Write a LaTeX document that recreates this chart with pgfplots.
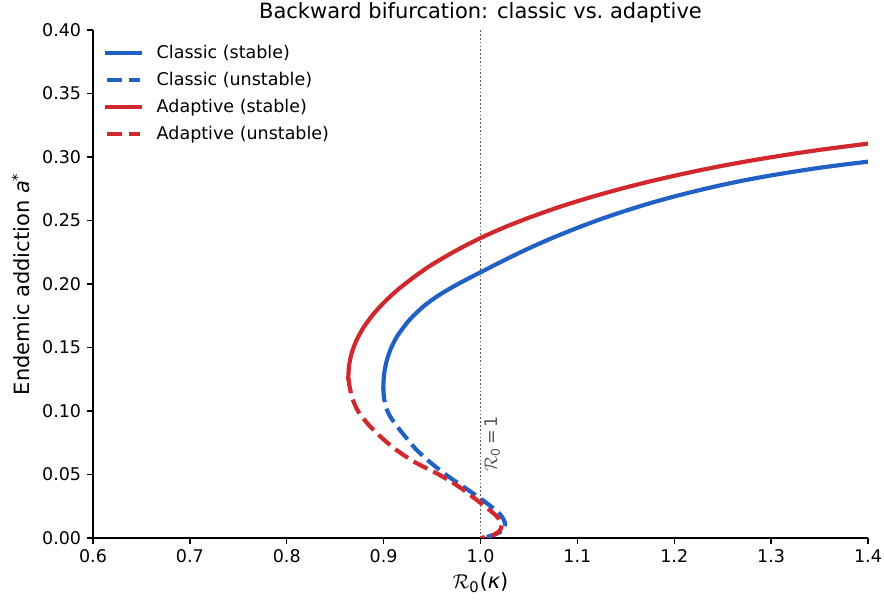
\documentclass[border=0pt]{standalone}
\usepackage{fontspec}
\setmainfont{DejaVu Sans}
\usepackage{pgfplots}
\pgfplotsset{compat=1.18}
\definecolor{cblue}{RGB}{33,96,196}
\definecolor{cred}{RGB}{208,40,44}

\pgfplotstableread{
x y
0.8997 0.1190
0.9005 0.1290
0.9030 0.1390
0.9074 0.1490
0.9141 0.1590
0.9237 0.1690
0.9300 0.1744
0.9400 0.1816
0.9500 0.1875
0.9600 0.1926
0.9700 0.1971
0.9800 0.2013
0.9900 0.2053
1.0000 0.2092
1.0250 0.2189
1.0500 0.2281
1.0750 0.2365
1.1000 0.2442
1.1250 0.2513
1.1500 0.2577
1.1750 0.2636
1.2000 0.2689
1.2250 0.2737
1.2500 0.2781
1.2750 0.2820
1.3000 0.2855
1.3250 0.2886
1.3500 0.2915
1.3750 0.2940
1.4000 0.2963
}\classicstable

\pgfplotstableread{
x y
0.8997 0.1190
0.9002 0.1120
0.9020 0.1040
0.9058 0.0970
0.9118 0.0900
0.9222 0.0800
0.9332 0.0700
0.9475 0.0600
0.9640 0.0500
0.9830 0.0400
1.0020 0.0300
1.0185 0.0200
1.0235 0.0150
1.0253 0.0115
1.0245 0.0080
1.0210 0.0050
1.0140 0.0025
1.0070 0.0010
1.0000 0.0000
}\classicunstable

\pgfplotstableread{
x y
0.8635 0.1260
0.8644 0.1360
0.8672 0.1460
0.8722 0.1560
0.8795 0.1660
0.8891 0.1760
0.9011 0.1860
0.9154 0.1960
0.9323 0.2060
0.9500 0.2153
0.9750 0.2264
1.0000 0.2362
1.0250 0.2447
1.0500 0.2522
1.0750 0.2590
1.1000 0.2652
1.1250 0.2708
1.1500 0.2760
1.1750 0.2808
1.2000 0.2852
1.2250 0.2893
1.2500 0.2931
1.2750 0.2966
1.3000 0.2998
1.3250 0.3028
1.3500 0.3056
1.3750 0.3081
1.4000 0.3105
}\adaptivestable

\pgfplotstableread{
x y
0.8635 0.1260
0.8652 0.1180
0.8677 0.1100
0.8735 0.1000
0.8835 0.0900
0.8965 0.0800
0.9120 0.0700
0.9315 0.0600
0.9570 0.0500
0.9785 0.0400
0.9960 0.0300
1.0125 0.0200
1.0190 0.0150
1.0218 0.0100
1.0200 0.0060
1.0150 0.0030
1.0080 0.0012
1.0000 0.0000
}\adaptiveunstable

\begin{document}
\begin{tikzpicture}
\begin{axis}[
  width=465pt, height=304.8pt, scale only axis,
  xmin=0.6, xmax=1.4, ymin=0, ymax=0.4,
  axis x line*=bottom, axis y line*=left,
  axis line style={line width=0.8pt},
  tick align=outside, major tick length=3.6pt,
  tick style={line width=0.8pt, black},
  xtick={0.6,0.7,0.8,0.9,1.0,1.1,1.2,1.3,1.4},
  ytick={0,0.05,0.10,0.15,0.20,0.25,0.30,0.35,0.40},
  /pgf/number format/assume math mode=true,
  xticklabel={\pgfmathprintnumber[fixed,fixed zerofill,precision=1]{\tick}},
  yticklabel={\pgfmathprintnumber[fixed,fixed zerofill,precision=2]{\tick}},
  tick label style={font=\fontsize{10.5}{12}\selectfont},
  title={Backward bifurcation: classic vs.\ adaptive},
  every axis title/.style={at={(rel axis cs:0.5,1)}, anchor=base, yshift=6.6pt, font=\fontsize{12.6}{14}\selectfont},
  xlabel={$\mathcal{R}$\textsubscript{0}(\textit{κ})},
  ylabel={Endemic addiction \textit{a}\textsuperscript{*}},
  every axis x label/.style={at={(rel axis cs:0.5,0)}, yshift=-26.5pt, anchor=center, font=\fontsize{12.6}{14}\selectfont},
  every axis y label/.style={at={(rel axis cs:0,0.5)}, xshift=-43.2pt, rotate=90, anchor=center, font=\fontsize{12.6}{14}\selectfont},
  legend cell align=left,
  legend image code/.code={\draw[#1] (1.25pt,0pt) -- (21.25pt,0pt); \path (28pt,0pt);},
  legend style={at={(rel axis cs:0,1)}, anchor=north west, xshift=3.8pt, yshift=-5pt,
    draw=none, fill=none, font=\fontsize{10.5}{12}\selectfont, row sep=2.6pt},
]
\coordinate (O) at (rel axis cs:0,0);
\addplot[forget plot, black!65, line width=1.1pt, dash pattern=on 1pt off 1.3pt] coordinates {(1,0) (1,0.4)};
\addplot[cblue, line width=2.5pt, line cap=rect, smooth] table {\classicstable};
\addlegendentry{Classic (stable)}
\addplot[cblue, line width=2.5pt, smooth, dash pattern=on 9.25pt off 4pt] table {\classicunstable};
\addlegendentry{Classic (unstable)}
\addplot[cred, line width=2.5pt, line cap=rect, smooth] table {\adaptivestable};
\addlegendentry{Adaptive (stable)}
\addplot[cred, line width=2.5pt, smooth, dash pattern=on 9.25pt off 4pt] table {\adaptiveunstable};
\addlegendentry{Adaptive (unstable)}
\node[rotate=90, anchor=north west, inner sep=0pt, text=black!65, font=\fontsize{10.5}{12}\selectfont] at (axis cs:1.0036,0.052) {$\mathcal{R}$\textsubscript{0}\,=\,1};
\end{axis}
\pgfresetboundingbox
\path[use as bounding box] ([shift={(-55.8pt,-37.8pt)}]O) rectangle ([shift={(474.6pt,322.8pt)}]O);
\end{tikzpicture}
\end{document}
